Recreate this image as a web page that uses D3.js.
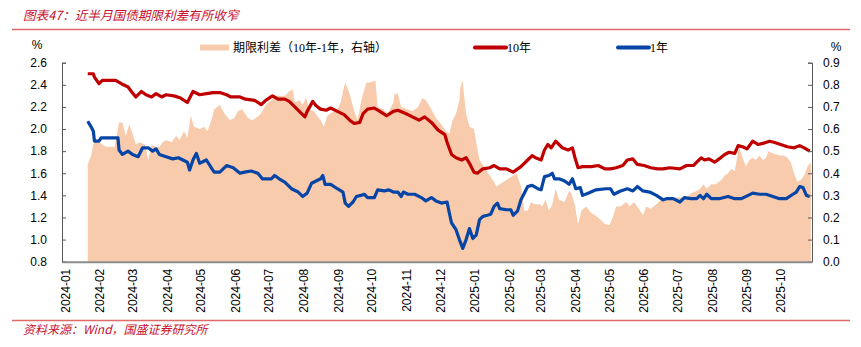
<!DOCTYPE html>
<html>
<head>
<meta charset="utf-8">
<script src="https://cdn.jsdelivr.net/npm/d3@7"></script>
<style>
  body { margin: 0; background: #fff; }
  svg { display: block; }
</style>
</head>
<body>
<svg id="chart" width="861" height="347"></svg>
<script>
// 10年国债收益率 (%)
const y10Data = [
  ["2024-01-24", 2.50], ["2024-01-29", 2.50], ["2024-01-30", 2.47], ["2024-02-03", 2.41], ["2024-02-06", 2.44],
  ["2024-02-18", 2.44], ["2024-02-23", 2.41], ["2024-02-29", 2.38], ["2024-03-03", 2.34], ["2024-03-07", 2.29],
  ["2024-03-12", 2.34], ["2024-03-16", 2.31], ["2024-03-21", 2.29], ["2024-03-25", 2.32], ["2024-03-30", 2.29],
  ["2024-04-03", 2.31], ["2024-04-10", 2.30], ["2024-04-16", 2.28], ["2024-04-22", 2.24], ["2024-04-27", 2.34],
  ["2024-05-03", 2.31], ["2024-05-09", 2.32], ["2024-05-15", 2.33], ["2024-05-21", 2.33], ["2024-05-27", 2.31],
  ["2024-05-31", 2.29], ["2024-06-08", 2.29], ["2024-06-13", 2.27], ["2024-06-21", 2.26], ["2024-06-27", 2.22],
  ["2024-07-01", 2.26], ["2024-07-07", 2.30], ["2024-07-12", 2.27], ["2024-07-18", 2.27], ["2024-07-22", 2.25],
  ["2024-07-27", 2.20], ["2024-07-31", 2.16], ["2024-08-05", 2.11], ["2024-08-07", 2.16], ["2024-08-12", 2.25],
  ["2024-08-15", 2.21], ["2024-08-19", 2.18], ["2024-08-24", 2.17], ["2024-08-28", 2.19], ["2024-09-03", 2.16],
  ["2024-09-09", 2.13], ["2024-09-14", 2.08], ["2024-09-18", 2.05], ["2024-09-23", 2.06], ["2024-09-26", 2.14],
  ["2024-09-30", 2.18], ["2024-10-06", 2.19], ["2024-10-11", 2.16], ["2024-10-17", 2.12], ["2024-10-23", 2.16],
  ["2024-10-27", 2.17], ["2024-11-03", 2.14], ["2024-11-09", 2.11], ["2024-11-15", 2.08], ["2024-11-20", 2.11],
  ["2024-11-26", 2.06], ["2024-12-02", 1.99], ["2024-12-08", 1.95], ["2024-12-10", 1.88], ["2024-12-14", 1.77],
  ["2024-12-18", 1.74], ["2024-12-23", 1.72], ["2024-12-27", 1.74], ["2024-12-30", 1.69], ["2025-01-03", 1.61],
  ["2025-01-06", 1.60], ["2025-01-11", 1.64], ["2025-01-17", 1.65], ["2025-01-21", 1.67], ["2025-01-26", 1.64],
  ["2025-02-01", 1.64], ["2025-02-07", 1.61], ["2025-02-14", 1.66], ["2025-02-20", 1.72], ["2025-02-24", 1.76],
  ["2025-02-27", 1.74], ["2025-03-04", 1.72], ["2025-03-07", 1.81], ["2025-03-10", 1.86], ["2025-03-13", 1.83],
  ["2025-03-17", 1.89], ["2025-03-20", 1.86], ["2025-03-23", 1.83], ["2025-03-28", 1.81], ["2025-04-01", 1.83],
  ["2025-04-03", 1.75], ["2025-04-06", 1.65], ["2025-04-10", 1.66], ["2025-04-18", 1.66], ["2025-04-24", 1.67],
  ["2025-04-30", 1.64], ["2025-05-05", 1.64], ["2025-05-10", 1.65], ["2025-05-16", 1.67], ["2025-05-20", 1.72],
  ["2025-05-25", 1.73], ["2025-05-29", 1.68], ["2025-06-04", 1.67], ["2025-06-10", 1.65], ["2025-06-16", 1.64],
  ["2025-06-21", 1.64], ["2025-06-27", 1.65], ["2025-07-06", 1.64], ["2025-07-12", 1.67], ["2025-07-18", 1.67],
  ["2025-07-21", 1.70], ["2025-07-25", 1.74], ["2025-07-28", 1.72], ["2025-08-01", 1.73], ["2025-08-06", 1.70],
  ["2025-08-10", 1.73], ["2025-08-15", 1.77], ["2025-08-19", 1.79], ["2025-08-24", 1.78], ["2025-08-27", 1.85],
  ["2025-08-31", 1.84], ["2025-09-04", 1.82], ["2025-09-09", 1.89], ["2025-09-14", 1.86], ["2025-09-18", 1.87],
  ["2025-09-24", 1.89], ["2025-09-28", 1.88], ["2025-10-04", 1.86], ["2025-10-10", 1.84], ["2025-10-16", 1.83],
  ["2025-10-21", 1.85], ["2025-10-25", 1.83], ["2025-10-30", 1.80]
];

// 1年国债收益率 (%)
const y1Data = [
  ["2024-01-24", 2.07], ["2024-01-27", 2.02], ["2024-01-29", 1.98], ["2024-01-30", 1.89], ["2024-02-03", 1.89],
  ["2024-02-05", 1.92], ["2024-02-09", 1.92], ["2024-02-20", 1.92], ["2024-02-21", 1.81], ["2024-02-24", 1.77],
  ["2024-02-29", 1.80], ["2024-03-04", 1.77], ["2024-03-09", 1.75], ["2024-03-13", 1.83], ["2024-03-18", 1.83],
  ["2024-03-22", 1.80], ["2024-03-25", 1.82], ["2024-03-28", 1.77], ["2024-04-03", 1.75], ["2024-04-09", 1.73],
  ["2024-04-14", 1.74], ["2024-04-18", 1.72], ["2024-04-22", 1.70], ["2024-04-24", 1.63], ["2024-04-27", 1.72],
  ["2024-04-30", 1.78], ["2024-05-03", 1.69], ["2024-05-09", 1.72], ["2024-05-14", 1.64], ["2024-05-16", 1.61],
  ["2024-05-21", 1.61], ["2024-05-27", 1.67], ["2024-06-02", 1.65], ["2024-06-08", 1.60], ["2024-06-12", 1.61],
  ["2024-06-18", 1.62], ["2024-06-24", 1.60], ["2024-06-28", 1.55], ["2024-07-03", 1.55], ["2024-07-06", 1.55],
  ["2024-07-09", 1.58], ["2024-07-13", 1.55], ["2024-07-18", 1.52], ["2024-07-24", 1.46], ["2024-07-30", 1.43],
  ["2024-08-03", 1.39], ["2024-08-07", 1.42], ["2024-08-11", 1.51], ["2024-08-15", 1.53], ["2024-08-19", 1.55],
  ["2024-08-21", 1.58], ["2024-08-23", 1.50], ["2024-08-28", 1.50], ["2024-09-03", 1.46], ["2024-09-08", 1.43],
  ["2024-09-10", 1.33], ["2024-09-13", 1.30], ["2024-09-17", 1.34], ["2024-09-20", 1.39], ["2024-09-24", 1.40],
  ["2024-09-27", 1.41], ["2024-09-30", 1.38], ["2024-10-06", 1.38], ["2024-10-09", 1.45], ["2024-10-15", 1.44],
  ["2024-10-19", 1.45], ["2024-10-23", 1.43], ["2024-10-27", 1.43], ["2024-10-30", 1.39], ["2024-11-01", 1.43],
  ["2024-11-05", 1.41], ["2024-11-11", 1.41], ["2024-11-17", 1.38], ["2024-11-21", 1.35], ["2024-11-26", 1.38],
  ["2024-11-30", 1.35], ["2024-12-05", 1.33], ["2024-12-10", 1.34], ["2024-12-12", 1.24], ["2024-12-14", 1.15],
  ["2024-12-18", 1.09], ["2024-12-21", 1.00], ["2024-12-24", 0.92], ["2024-12-27", 1.00], ["2024-12-30", 1.10],
  ["2025-01-02", 1.01], ["2025-01-05", 1.04], ["2025-01-08", 1.18], ["2025-01-11", 1.21], ["2025-01-15", 1.22],
  ["2025-01-18", 1.23], ["2025-01-21", 1.30], ["2025-01-24", 1.33], ["2025-01-26", 1.28], ["2025-02-01", 1.27],
  ["2025-02-05", 1.27], ["2025-02-07", 1.22], ["2025-02-11", 1.26], ["2025-02-14", 1.36], ["2025-02-17", 1.42],
  ["2025-02-20", 1.48], ["2025-02-24", 1.49], ["2025-03-01", 1.46], ["2025-03-04", 1.45], ["2025-03-07", 1.57],
  ["2025-03-11", 1.58], ["2025-03-14", 1.60], ["2025-03-16", 1.55], ["2025-03-20", 1.55], ["2025-03-25", 1.53],
  ["2025-03-29", 1.50], ["2025-04-01", 1.55], ["2025-04-04", 1.46], ["2025-04-08", 1.47], ["2025-04-10", 1.40],
  ["2025-04-15", 1.42], ["2025-04-22", 1.45], ["2025-05-01", 1.46], ["2025-05-05", 1.46], ["2025-05-08", 1.41],
  ["2025-05-14", 1.44], ["2025-05-20", 1.46], ["2025-05-25", 1.44], ["2025-05-29", 1.48], ["2025-06-03", 1.44],
  ["2025-06-09", 1.43], ["2025-06-15", 1.40], ["2025-06-21", 1.36], ["2025-06-24", 1.37], ["2025-06-30", 1.37],
  ["2025-07-06", 1.34], ["2025-07-10", 1.38], ["2025-07-16", 1.37], ["2025-07-21", 1.37], ["2025-07-24", 1.40],
  ["2025-07-27", 1.37], ["2025-07-30", 1.41], ["2025-08-03", 1.37], ["2025-08-10", 1.37], ["2025-08-18", 1.39],
  ["2025-08-24", 1.37], ["2025-08-30", 1.37], ["2025-09-05", 1.40], ["2025-09-09", 1.42], ["2025-09-15", 1.41],
  ["2025-09-21", 1.41], ["2025-09-27", 1.39], ["2025-10-03", 1.37], ["2025-10-09", 1.37], ["2025-10-15", 1.41],
  ["2025-10-18", 1.43], ["2025-10-21", 1.48], ["2025-10-24", 1.47], ["2025-10-27", 1.40], ["2025-10-30", 1.39]
];

// 期限利差 (10年-1年，右轴, %)
const spreadData = [
  ["2024-01-24", 0.44], ["2024-01-27", 0.48], ["2024-01-29", 0.53], ["2024-01-30", 0.54], ["2024-02-03", 0.54],
  ["2024-02-09", 0.52], ["2024-02-17", 0.52], ["2024-02-21", 0.63], ["2024-02-24", 0.63], ["2024-02-27", 0.57],
  ["2024-03-01", 0.62], ["2024-03-04", 0.58], ["2024-03-07", 0.53], ["2024-03-10", 0.54], ["2024-03-15", 0.53],
  ["2024-03-18", 0.46], ["2024-03-21", 0.53], ["2024-03-24", 0.52], ["2024-03-28", 0.52], ["2024-03-31", 0.54],
  ["2024-04-03", 0.55], ["2024-04-08", 0.54], ["2024-04-12", 0.57], ["2024-04-15", 0.55], ["2024-04-19", 0.59],
  ["2024-04-22", 0.56], ["2024-04-25", 0.66], ["2024-04-28", 0.61], ["2024-05-03", 0.60], ["2024-05-07", 0.61],
  ["2024-05-10", 0.59], ["2024-05-14", 0.65], ["2024-05-16", 0.69], ["2024-05-21", 0.71], ["2024-05-25", 0.67],
  ["2024-05-30", 0.64], ["2024-06-03", 0.65], ["2024-06-06", 0.68], ["2024-06-10", 0.69], ["2024-06-15", 0.65],
  ["2024-06-19", 0.64], ["2024-06-25", 0.66], ["2024-06-28", 0.68], ["2024-07-01", 0.71], ["2024-07-06", 0.73],
  ["2024-07-09", 0.75], ["2024-07-13", 0.75], ["2024-07-18", 0.75], ["2024-07-22", 0.77], ["2024-07-25", 0.78],
  ["2024-07-27", 0.72], ["2024-07-31", 0.73], ["2024-08-03", 0.71], ["2024-08-06", 0.74], ["2024-08-09", 0.69],
  ["2024-08-13", 0.68], ["2024-08-16", 0.66], ["2024-08-19", 0.64], ["2024-08-22", 0.61], ["2024-08-25", 0.66],
  ["2024-08-28", 0.67], ["2024-09-03", 0.69], ["2024-09-06", 0.72], ["2024-09-08", 0.77], ["2024-09-10", 0.81],
  ["2024-09-14", 0.76], ["2024-09-17", 0.70], ["2024-09-21", 0.64], ["2024-09-24", 0.72], ["2024-09-26", 0.76],
  ["2024-09-29", 0.81], ["2024-10-02", 0.81], ["2024-10-07", 0.82], ["2024-10-09", 0.70], ["2024-10-14", 0.69],
  ["2024-10-18", 0.67], ["2024-10-23", 0.72], ["2024-10-24", 0.76], ["2024-10-27", 0.76], ["2024-10-30", 0.70],
  ["2024-11-05", 0.69], ["2024-11-09", 0.68], ["2024-11-14", 0.70], ["2024-11-18", 0.74], ["2024-11-21", 0.73],
  ["2024-11-26", 0.69], ["2024-11-30", 0.65], ["2024-12-05", 0.62], ["2024-12-09", 0.59], ["2024-12-12", 0.58],
  ["2024-12-15", 0.64], ["2024-12-18", 0.67], ["2024-12-21", 0.73], ["2024-12-22", 0.79], ["2024-12-24", 0.82],
  ["2024-12-25", 0.76], ["2024-12-27", 0.67], ["2024-12-30", 0.61], ["2025-01-03", 0.60], ["2025-01-05", 0.54],
  ["2025-01-08", 0.46], ["2025-01-12", 0.43], ["2025-01-17", 0.39], ["2025-01-21", 0.36], ["2025-01-23", 0.34],
  ["2025-01-26", 0.35], ["2025-02-01", 0.37], ["2025-02-04", 0.38], ["2025-02-07", 0.39], ["2025-02-10", 0.40],
  ["2025-02-14", 0.34], ["2025-02-17", 0.23], ["2025-02-20", 0.23], ["2025-02-23", 0.27], ["2025-02-26", 0.26],
  ["2025-03-03", 0.26], ["2025-03-05", 0.25], ["2025-03-08", 0.28], ["2025-03-11", 0.23], ["2025-03-14", 0.26],
  ["2025-03-17", 0.33], ["2025-03-20", 0.28], ["2025-03-25", 0.27], ["2025-03-29", 0.32], ["2025-03-31", 0.31],
  ["2025-04-03", 0.26], ["2025-04-06", 0.17], ["2025-04-09", 0.23], ["2025-04-13", 0.25], ["2025-04-18", 0.22],
  ["2025-04-24", 0.20], ["2025-04-30", 0.17], ["2025-05-04", 0.165], ["2025-05-07", 0.20], ["2025-05-10", 0.25],
  ["2025-05-14", 0.25], ["2025-05-19", 0.27], ["2025-05-22", 0.25], ["2025-05-26", 0.27], ["2025-05-29", 0.25],
  ["2025-06-03", 0.21], ["2025-06-06", 0.25], ["2025-06-10", 0.24], ["2025-06-15", 0.26], ["2025-06-19", 0.28],
  ["2025-06-24", 0.28], ["2025-06-30", 0.29], ["2025-07-06", 0.29], ["2025-07-12", 0.29], ["2025-07-16", 0.31],
  ["2025-07-21", 0.32], ["2025-07-24", 0.33], ["2025-07-27", 0.35], ["2025-07-30", 0.33], ["2025-08-03", 0.35],
  ["2025-08-07", 0.35], ["2025-08-12", 0.37], ["2025-08-15", 0.39], ["2025-08-18", 0.40], ["2025-08-21", 0.42],
  ["2025-08-24", 0.41], ["2025-08-26", 0.47], ["2025-08-28", 0.52], ["2025-08-31", 0.47], ["2025-09-03", 0.43],
  ["2025-09-06", 0.46], ["2025-09-09", 0.47], ["2025-09-12", 0.46], ["2025-09-15", 0.48], ["2025-09-18", 0.46],
  ["2025-09-21", 0.47], ["2025-09-23", 0.50], ["2025-09-27", 0.49], ["2025-10-03", 0.48], ["2025-10-07", 0.48],
  ["2025-10-10", 0.47], ["2025-10-13", 0.45], ["2025-10-16", 0.40], ["2025-10-19", 0.36], ["2025-10-22", 0.37],
  ["2025-10-25", 0.39], ["2025-10-28", 0.43], ["2025-10-31", 0.45]
];

const leftTicks = [0.8, 1.0, 1.2, 1.4, 1.6, 1.8, 2.0, 2.2, 2.4, 2.6];
const rightTicks = [0.0, 0.1, 0.2, 0.3, 0.4, 0.5, 0.6, 0.7, 0.8, 0.9];
const monthTicks = ["2024-01", "2024-02", "2024-03", "2024-04", "2024-05", "2024-06", "2024-07", "2024-08",
  "2024-09", "2024-10", "2024-11", "2024-12", "2025-01", "2025-02", "2025-03", "2025-04", "2025-05",
  "2025-06", "2025-07", "2025-08", "2025-09", "2025-10"];

const titleText = "图表47：近半月国债期限利差有所收窄";
const sourceText = "资料来源：Wind，国盛证券研究所";
const legendItems = [
  { label: "期限利差（10年-1年，右轴）", type: "area", color: "#f8cbad" },
  { label: "10年", type: "line", color: "#c00000" },
  { label: "1年", type: "line", color: "#0645a5" }
];

const parseDate = d3.timeParse("%Y-%m-%d");
const parseMonth = d3.timeParse("%Y-%m");

const svg = d3.select("#chart");
const margin = { top: 62.7, right: 49, bottom: 85.3, left: 62 };
const width = 861 - margin.left - margin.right;
const height = 347 - margin.top - margin.bottom;

const x = d3.scaleTime()
  .domain([parseDate("2024-01-01"), parseDate("2025-11-01")])
  .range([margin.left, margin.left + width]);
const yL = d3.scaleLinear().domain([0.8, 2.6]).range([margin.top + height, margin.top]);
const yR = d3.scaleLinear().domain([0, 0.9]).range([margin.top + height, margin.top]);

const cjk = "'Liberation Serif', 'Noto Sans CJK SC', serif";
const tickFont = "'Liberation Sans', Arial, sans-serif";

// title and rules
svg.append("text")
  .attr("x", 23).attr("y", 20)
  .style("font-family", "'Noto Sans CJK SC', sans-serif")
  .style("font-style", "italic")
  .style("font-size", "12.6px")
  .style("fill", "#c8102e")
  .text(titleText);

svg.append("line")
  .attr("x1", 12).attr("x2", 850).attr("y1", 29.5).attr("y2", 29.5)
  .style("stroke", "#e06a6a").style("stroke-width", 1.5);

svg.append("line")
  .attr("x1", 12).attr("x2", 850).attr("y1", 320.5).attr("y2", 320.5)
  .style("stroke", "#e06a6a").style("stroke-width", 1.5);

svg.append("text")
  .attr("x", 23).attr("y", 334)
  .style("font-family", "'Noto Sans CJK SC', sans-serif")
  .style("font-style", "italic")
  .style("font-size", "12px")
  .style("fill", "#c8102e")
  .text(sourceText);

// spread area (right axis)
const spread = spreadData.map(d => ({ date: parseDate(d[0]), value: d[1] }));
const area = d3.area()
  .x(d => x(d.date))
  .y0(yR(0))
  .y1(d => yR(d.value));

svg.append("path")
  .datum(spread)
  .attr("d", area)
  .style("fill", "#f8cbad")
  .style("stroke", "none");

// yield lines (left axis)
const line = d3.line()
  .x(d => x(d.date))
  .y(d => yL(d.value));

[[y10Data, "#c00000"], [y1Data, "#0645a5"]].forEach(([data, color]) => {
  svg.append("path")
    .datum(data.map(d => ({ date: parseDate(d[0]), value: d[1] })))
    .attr("d", line)
    .style("fill", "none")
    .style("stroke", color)
    .style("stroke-width", 3.2)
    .style("stroke-linejoin", "round");
});

// left axis
const leftAxis = svg.append("g")
  .attr("transform", "translate(" + margin.left + ",0)")
  .call(d3.axisRight(yL).tickValues(leftTicks).tickSize(4).tickFormat(d3.format(".1f")));
leftAxis.select(".domain").style("stroke", "#595959");
leftAxis.selectAll(".tick line").style("stroke", "#595959");
leftAxis.selectAll("text")
  .attr("x", -15).attr("text-anchor", "end")
  .style("font-family", tickFont).style("font-size", "12px").style("fill", "#000");

// right axis
const rightAxis = svg.append("g")
  .attr("transform", "translate(" + (margin.left + width) + ",0)")
  .call(d3.axisLeft(yR).tickValues(rightTicks).tickSize(4).tickFormat(d3.format(".1f")));
rightAxis.select(".domain").style("stroke", "#595959");
rightAxis.selectAll(".tick line").style("stroke", "#595959");
rightAxis.selectAll("text")
  .attr("x", 11).attr("text-anchor", "start")
  .style("font-family", tickFont).style("font-size", "12px").style("fill", "#000");

// bottom axis
const bottomAxis = svg.append("g")
  .attr("transform", "translate(0," + (margin.top + height) + ")")
  .call(d3.axisBottom(x).tickValues(monthTicks.map(parseMonth)).tickSize(0).tickFormat(d3.timeFormat("%Y-%m")));
bottomAxis.select(".domain").style("stroke", "#8c8c8c").style("stroke-width", 2);
bottomAxis.selectAll("text")
  .attr("transform", "translate(3,7) rotate(-90)")
  .attr("x", 0).attr("y", 0).attr("dy", "0.35em")
  .attr("text-anchor", "end")
  .style("font-family", tickFont).style("font-size", "12px").style("fill", "#000");

// % unit labels
svg.append("text").attr("x", 37).attr("y", 49).attr("text-anchor", "middle")
  .style("font-family", tickFont).style("font-size", "12px").text("%");
svg.append("text").attr("x", 836).attr("y", 51).attr("text-anchor", "middle")
  .style("font-family", tickFont).style("font-size", "12px").text("%");

// legend
const legendX = [200, 475, 618];
legendItems.forEach((item, i) => {
  const g = svg.append("g").attr("transform", "translate(" + legendX[i] + ",47.5)");
  if (item.type === "area") {
    g.append("rect").attr("x", 0).attr("y", -3).attr("width", 29).attr("height", 6).style("fill", item.color);
  } else {
    g.append("line").attr("x1", 0).attr("x2", 31).attr("y1", 0).attr("y2", 0)
      .style("stroke", item.color).style("stroke-width", 4).style("stroke-linecap", "round");
  }
  g.append("text")
    .attr("x", item.type === "area" ? 33 : 32).attr("y", 4)
    .style("font-family", cjk).style("font-size", "12px").style("fill", "#000")
    .text(item.label);
});
</script>
</body>
</html>
